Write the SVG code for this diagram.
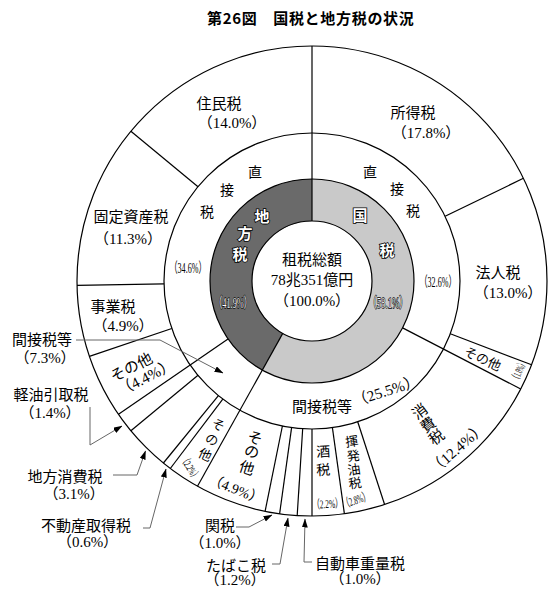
<svg xmlns="http://www.w3.org/2000/svg" width="560" height="602" viewBox="0 0 560 602">
<style>
.title{font-family:"Noto Sans CJK JP",sans-serif;font-weight:bold;font-size:15px;letter-spacing:0.7px;fill:#000}
.lb{font-family:"Liberation Serif","Noto Sans CJK JP",serif;font-size:15px;text-anchor:middle;fill:#000}
.s13{font-size:13px}
.s14{font-size:14px}
.cn{font-size:14.5px}
.tiny{font-size:11px}
.wt{fill:#fff;stroke:#000;stroke-width:1.6;paint-order:stroke;font-weight:bold}
.wp{stroke-width:1.3;font-weight:normal}
.ln{stroke:#000;stroke-width:1.2;fill:none}
.ld{stroke:#666;stroke-width:1;fill:none;marker-end:url(#ah)}
</style>
<defs>
<marker id="ah" markerUnits="userSpaceOnUse" markerWidth="9" markerHeight="7" refX="8.5" refY="3" orient="auto">
<path d="M0,0 L9,3 L0,6 Z" fill="#000"/>
</marker>
</defs>
<rect width="560" height="602" fill="#fff"/>
<g id="title"><text class="title" x="207" y="24">第26図　国税と地方税の状況</text></g>

<g id="rings">
<circle cx="312" cy="281" r="235" fill="#fff" class="ln"/>
<circle cx="312" cy="281" r="148" class="ln"/>
<path id="kokuzei-ring" d="M312,179 A102,102 0 1 1 262.30,370.08 L282.76,333.40 A60,60 0 1 0 312,221 Z" fill="#c9c9c9"/>
<path id="chihouzei-ring" d="M262.30,370.08 A102,102 0 0 1 312,179 L312,221 A60,60 0 0 0 282.76,333.40 Z" fill="#6a6a6a"/>
<circle cx="312" cy="281" r="102" class="ln"/>
<circle cx="312" cy="281" r="60" fill="#fff" class="ln"/>
</g>

<g id="ring-lines" class="ln">
<line x1="312" y1="221" x2="312" y2="46"/>
<line x1="282.76" y1="333.40" x2="197.48" y2="486.23"/>
<line x1="402.6" y1="327.9" x2="520.7" y2="389.0"/>
<line x1="228.0" y1="338.9" x2="118.5" y2="414.3"/>
<line x1="445.1" y1="216.3" x2="523.4" y2="178.3"/>
<line x1="450.3" y1="333.7" x2="531.6" y2="364.8"/>
<line x1="357.7" y1="421.8" x2="384.6" y2="504.5"/>
<line x1="332.4" y1="427.6" x2="344.4" y2="513.8"/>
<line x1="312" y1="429" x2="312" y2="516"/>
<line x1="302.7" y1="428.7" x2="297.2" y2="515.5"/>
<line x1="291.6" y1="427.6" x2="279.6" y2="513.8"/>
<line x1="282.4" y1="426.0" x2="265.1" y2="511.3"/>
<line x1="222.8" y1="399.1" x2="170.3" y2="468.5"/>
<line x1="218.4" y1="395.6" x2="163.4" y2="463.0"/>
<line x1="198.0" y1="375.3" x2="130.9" y2="430.8"/>
<line x1="171.8" y1="328.5" x2="89.4" y2="356.4"/>
<line x1="164.0" y1="283.8" x2="77.0" y2="285.4"/>
<line x1="198.0" y1="186.7" x2="130.9" y2="131.2"/>
</g>

<g id="center-total">
<text class="lb" x="312" y="264.5">租税総額</text>
<text class="lb" x="312" y="285">78兆351億円</text>
<text class="lb" x="312" y="305.5">（100.0%）</text>
</g>

<g id="kokuzei">
<text class="lb wt" x="360" y="220.5">国</text>
<text class="lb wt" x="387" y="255.5">税</text>
<text class="lb wt wp cn" x="388" y="308" textLength="40" lengthAdjust="spacingAndGlyphs">（58.1%）</text>
</g>
<g id="chihouzei">
<text class="lb wt" x="262" y="222">地</text>
<text class="lb wt" x="245" y="239">方</text>
<text class="lb wt" x="240" y="259.5">税</text>
<text class="lb wt wp cn" x="233" y="308" textLength="38" lengthAdjust="spacingAndGlyphs">（41.9%）</text>
</g>

<g id="kokuzei-chokusetsu">
<text class="lb s14" x="370" y="177">直</text>
<text class="lb s14" x="397" y="194">接</text>
<text class="lb s14" x="413" y="215.5">税</text>
<text class="lb cn" x="438" y="287" textLength="37" lengthAdjust="spacingAndGlyphs">（32.6%）</text>
</g>
<g id="chihou-chokusetsu">
<text class="lb s14" x="255" y="177">直</text>
<text class="lb s14" x="227" y="195">接</text>
<text class="lb s14" x="207" y="217">税</text>
<text class="lb cn" x="188" y="273" textLength="37" lengthAdjust="spacingAndGlyphs">（34.6%）</text>
</g>
<g id="kokuzei-kansetsu">
<text class="lb" x="322" y="411.5">間接税等</text>
<text class="lb" transform="translate(386,391) rotate(-18)" y="5">（25.5%）</text>
</g>

<g id="shotokuzei"><text class="lb" x="413" y="118">所得税</text><text class="lb" x="426" y="137.5">（17.8%）</text></g>
<g id="houjinzei"><text class="lb" x="498" y="277.5">法人税</text><text class="lb" x="508" y="298">（13.0%）</text></g>
<g id="sonota-18">
<text class="lb s13" transform="translate(482.5,359) rotate(25)" y="4.5">その他</text>
<text class="lb tiny" transform="translate(519,371) rotate(-66)" y="3.5" textLength="22" lengthAdjust="spacingAndGlyphs">（1.8%）</text>
</g>
<g id="shouhizei">
<text class="lb" transform="translate(420,411.7) rotate(-37)" y="5">消</text>
<text class="lb" transform="translate(428.3,425) rotate(-37)" y="5">費</text>
<text class="lb" transform="translate(436.7,437.5) rotate(-37)" y="5">税</text>
<text class="lb" transform="translate(457.5,448.3) rotate(-41)" y="5">（12.4%）</text>
</g>
<g id="kihatsuyuzei">
<text class="lb s13" transform="translate(351.7,441.7) rotate(-8)" y="4.5">揮</text>
<text class="lb s13" transform="translate(353.3,456.2) rotate(-8)" y="4.5">発</text>
<text class="lb s13" transform="translate(354,470) rotate(-8)" y="4.5">油</text>
<text class="lb s13" transform="translate(355,483.5) rotate(-8)" y="4.5">税</text>
<text class="lb" style="font-size:12px" transform="translate(356,500) rotate(-18)" y="4" textLength="28" lengthAdjust="spacingAndGlyphs">（2.8%）</text>
</g>
<g id="shuzei">
<text class="lb s14" transform="translate(323.3,451.7) rotate(-3)" y="5">酒</text>
<text class="lb s14" transform="translate(323.3,470) rotate(-3)" y="5">税</text>
<text class="lb" style="font-size:12px" transform="translate(327.5,504) rotate(-3)" y="4" textLength="30" lengthAdjust="spacingAndGlyphs">（2.2%）</text>
</g>
<g id="kokuzei-sonota">
<text class="lb" transform="translate(255,438.3) rotate(18)" y="5">そ</text>
<text class="lb" transform="translate(251.7,452) rotate(18)" y="5">の</text>
<text class="lb" transform="translate(246.7,468.3) rotate(18)" y="5">他</text>
<text class="lb s14" transform="translate(236,489) rotate(22)" y="5">（4.9%）</text>
</g>
<g id="kanzei"><text class="lb" x="220" y="530.5">関税</text><text class="lb" x="220" y="547.5">（1.0%）</text></g>
<g id="tabakozei"><text class="lb" x="236" y="570.5">たばこ税</text><text class="lb" x="235" y="585">（1.2%）</text></g>
<g id="jidoushajuuryouzei"><text class="lb" x="360" y="569">自動車重量税</text><text class="lb" x="360" y="584">（1.0%）</text></g>

<g id="chihou-sonota-22">
<text class="lb s13" transform="translate(218.3,425) rotate(25)" y="4.5">そ</text>
<text class="lb s13" transform="translate(211.7,440) rotate(25)" y="4.5">の</text>
<text class="lb s13" transform="translate(205,455) rotate(25)" y="4.5">他</text>
<text class="lb tiny" transform="translate(190,468) rotate(58)" y="3.5" textLength="26" lengthAdjust="spacingAndGlyphs">（2.2%）</text>
</g>
<g id="fudousanshutokuzei"><text class="lb" x="86" y="530.5">不動産取得税</text><text class="lb" x="87.5" y="546.5">（0.6%）</text></g>
<g id="chihoushouhizei"><text class="lb" x="65" y="482">地方消費税</text><text class="lb" x="74" y="498.5">（3.1%）</text></g>
<g id="keiyuhikitorizei"><text class="lb" x="51" y="400">軽油引取税</text><text class="lb" x="50" y="417.5">（1.4%）</text></g>
<g id="chihou-kansetsu"><text class="lb" x="42" y="345">間接税等</text><text class="lb" x="45" y="362.5">（7.3%）</text></g>
<g id="chihou-sonota-44">
<text class="lb" transform="translate(131.5,367.5) rotate(-27)" y="5">その他</text>
<text class="lb" transform="translate(146,377.5) rotate(-27)" y="5">（4.4%）</text>
</g>
<g id="jigyouzei"><text class="lb" x="113" y="311.5">事業税</text><text class="lb" x="123" y="331">（4.9%）</text></g>
<g id="koteishisanzei"><text class="lb" x="131" y="221.5">固定資産税</text><text class="lb" x="128" y="244">（11.3%）</text></g>
<g id="juuminzei"><text class="lb" x="219" y="108.5">住民税</text><text class="lb" x="232" y="127.5">（14.0%）</text></g>

<g id="connectors">
<polyline class="ld" points="76,340 160,340 223,373"/>
<polyline class="ld" points="90,407 90,445 122,426"/>
<polyline class="ld" points="113,475 137,475 145.5,451"/>
<polyline class="ld" points="143,528 150,528 166,469"/>
<polyline class="ld" points="236,527 249,527 272,515"/>
<polyline class="ld" points="272,564 280,564 288,518"/>
<polyline class="ld" points="312,562 304,562 305,519"/>
</g>
</svg>
